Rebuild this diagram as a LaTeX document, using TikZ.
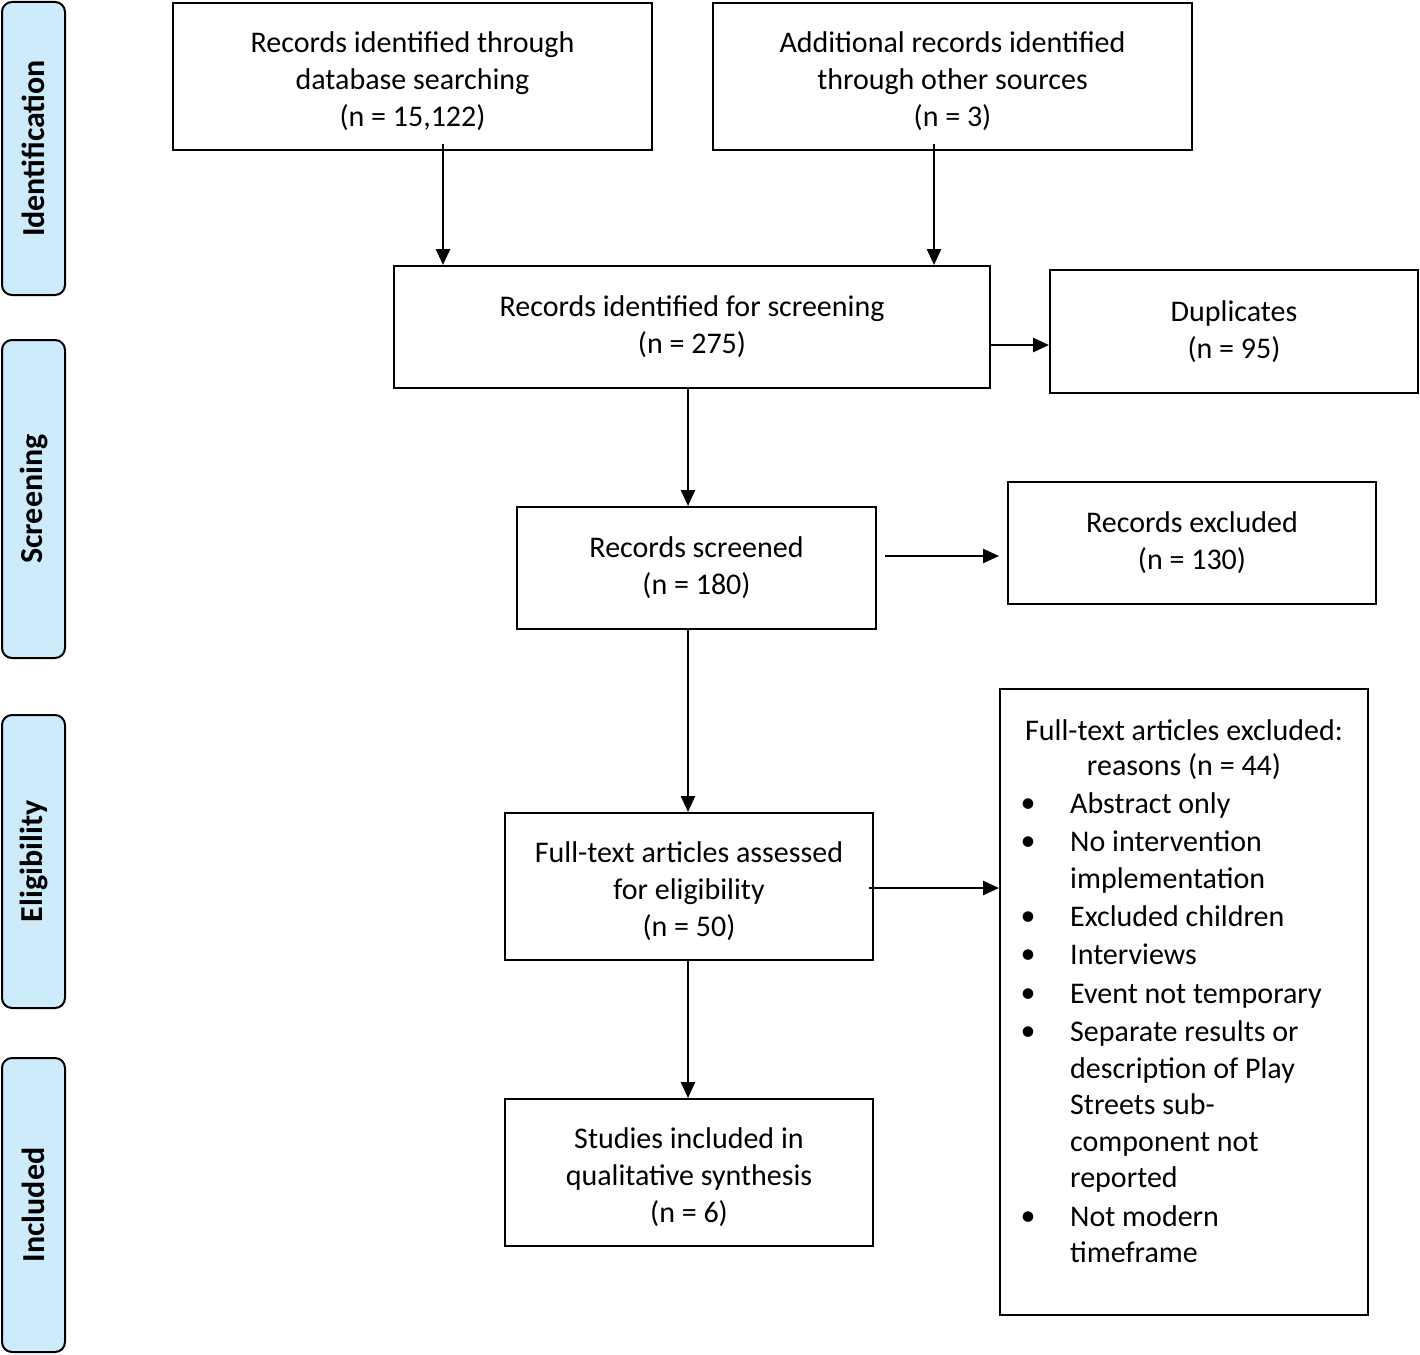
\documentclass[tikz,border=0pt]{standalone}
\usepackage{fontspec}
\setmainfont{Carlito}
\usetikzlibrary{arrows.meta,calc}
\definecolor{sideblue}{RGB}{205,235,250}
\begin{document}
\begin{tikzpicture}[x=1pt,y=-1pt,
  box/.style={draw,line width=2pt,align=center,inner sep=0pt,font=\fontsize{30}{37}\selectfont},
  txt/.style={align=center,inner sep=0pt,font=\fontsize{30}{37}\selectfont},
  side/.style={draw,line width=2pt,fill=sideblue,rounded corners=10pt,rotate=90,minimum height=63pt,inner sep=0pt,font=\fontsize{32}{36}\selectfont\bfseries},
  arr/.style={line width=2.6pt,-{Triangle[length=16pt,width=14pt]}},
  itm/.style={anchor=west,inner sep=0pt,text height=21pt,text depth=6pt,font=\fontsize{30}{37}\selectfont},
  bul/.style={anchor=center,inner sep=0pt,font=\fontsize{30}{37}\selectfont}]
\useasboundingbox (0,0) rectangle (1420,1354);
% side labels
\node[side,minimum width=293pt] (sid) at (33.5,148.5) {Identification};
\node[side,minimum width=318pt] (sscr) at (33.5,499) {Screening};
\node[side,minimum width=293pt] (selg) at (33.5,861.5) {Eligibility};
\node[side,minimum width=294pt] (sinc) at (33.5,1205) {Included};
% boxes
\node[box,minimum width=479pt,minimum height=147pt] (A) at (412.5,76.5) {};
\node[txt] (At) at ([yshift=-5pt]A.center) {Records identified through\\database searching\\(n = 15,122)};
\node[box,minimum width=479pt,minimum height=147pt] (B) at (952.5,76.5) {};
\node[txt] (Bt) at ([yshift=-5pt]B.center) {Additional records identified\\through other sources\\(n = 3)};
\node[box,minimum width=596pt,minimum height=122pt] (C) at (692,327) {Records identified for screening\\(n = 275)};
\node[box,minimum width=368pt,minimum height=123pt] (D) at (1234,331.5) {Duplicates\\(n = 95)};
\node[box,minimum width=359pt,minimum height=122pt] (E) at (696.5,568) {Records screened\\(n = 180)};
\node[box,minimum width=368pt,minimum height=122pt] (F) at (1192,543) {Records excluded\\(n = 130)};
\node[box,minimum width=368pt,minimum height=147pt] (G) at (689,886.5) {};
\node[txt] (Gt) at ([yshift=-5pt]G.center) {Full-text articles assessed\\for eligibility\\(n = 50)};
\node[box,minimum width=368pt,minimum height=147pt] (I) at (689,1172.5) {};
\node[txt] (It) at ([yshift=-5pt]I.center) {Studies included in\\qualitative synthesis\\(n = 6)};
\node[box,minimum width=368pt,minimum height=626pt] (H) at (1184,1002) {};
% contents of H
\node[bul] (ht1) at (1184,730) {Full-text articles excluded:};
\node[bul] (ht2) at (1184,767) {reasons (n = 44)};
\foreach \yy/\nm in {806/b1,844/b2,919/b3,957/b4,996/b5,1034/b6,1219/b7}{
  \node[bul] (\nm) at (1028,\yy) {\textbullet};
}
\foreach \yy/\txt [count=\k] in {806/Abstract only,844/No intervention,881/implementation,919/Excluded children,957/Interviews,996/Event not temporary,1034/Separate results or,1071/description of Play,1107/Streets sub-,1144/component not,1180/reported,1219/Not modern,1255/timeframe}{
  \node[itm] (it\k) at (1070,\yy) {\txt};
}
% connectors
\draw[arr] ([xshift=30.5pt,yshift=7pt]A.south) -- ([xshift=30.5pt]A.south |- C.north);
\draw[arr] ([xshift=-18.5pt,yshift=7pt]B.south) -- ([xshift=-18.5pt]B.south |- C.north);
\draw[arr] ([yshift=-18pt]C.east) -- ([yshift=-18pt]C.east -| D.west);
\draw[arr] ([xshift=-4pt]C.south) -- ([xshift=-4pt]C.south |- E.north);
\draw[arr,shorten <=8pt,shorten >=8pt] ([yshift=12pt]E.east) -- ([yshift=12pt]E.east -| F.west);
\draw[arr] ([xshift=-5pt,yshift=-1.5pt]G.east) -- ([yshift=-1.5pt]G.east -| H.west);
\draw[arr] ([xshift=-8.5pt]E.south) -- ([xshift=-8.5pt]E.south |- G.north);
\draw[arr] ([xshift=-1pt]G.south) -- ([xshift=-1pt]G.south |- I.north);
\end{tikzpicture}
\end{document}
